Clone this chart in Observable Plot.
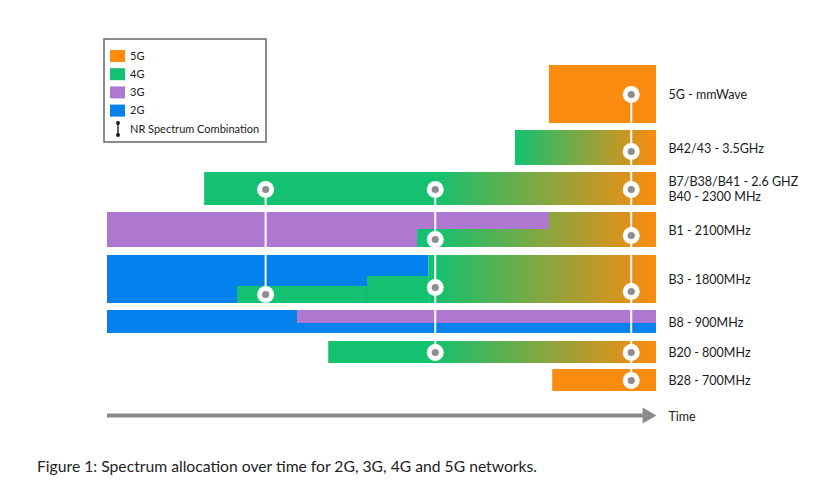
<!DOCTYPE html>
<html><head><meta charset="utf-8">
<script src="https://cdn.jsdelivr.net/npm/d3@7"></script>
<script src="https://cdn.jsdelivr.net/npm/@observablehq/plot@0.6"></script>
<style>
body{margin:0;background:#fff;font-family:Lato,"Noto Sans",sans-serif;}
#chart svg{display:block;}
.cap{padding:8px 0 0 37px;font-size:15.7px;line-height:20px;color:#222;font-family:Lato,"Noto Sans",sans-serif;}
</style>
</head><body>
<div id="chart"></div>
<div class="cap">Figure 1: Spectrum allocation over time for 2G, 3G, 4G and 5G networks.</div>
<script>
// ---- data ----
const bandLabels = ["5G - mmWave", "B42/43 - 3.5GHz", "B7/B38/B41 - 2.6 GHZ\nB40 - 2300 MHz", "B1 - 2100MHz", "B3 - 1800MHz", "B8 - 900MHz", "B20 - 800MHz", "B28 - 700MHz"];
const bandTop    = [0,   6.5, 10.7, 14.7, 19,   24.5, 27.6, 30.4];
const bandBottom = [5.8, 10,  14,   18.2, 23.8, 26.8, 29.8, 32.6];

const techs = ["5G", "4G", "3G", "2G"];
const techColors = ["#FB8B0E", "#13C170", "#AE78D1", "#0381ED"];

// spectrum segments (time 0..100)
const segBand   = [0,    1,    2,    3,    3,    3,    4,    4,    4,    4,    5,    5,    6,    7];
const segTech   = ["5G", "4G", "4G", "3G", "4G", "4G", "2G", "4G", "4G", "4G", "2G", "3G", "4G", "5G"];
const segStart  = [80.5, 74.3, 17.7, 0,    56.5, 80.5, 0,    58.5, 47.4, 23.7, 0,    34.6, 40.3, 81.1];
const segEnd    = [100,  100,  100,  80.5, 100,  100,  58.5, 100,  58.5, 47.4, 100,  100,  100,  100];
const segTop    = [0,    6.5,  10.7, 14.7, 16.4, 14.7, 19,   19,   21.1, 22.1, 24.5, 24.5, 27.6, 30.4];
const segBottom = [5.8,  10,   14,   18.2, 18.2, 16.4, 23.8, 23.8, 23.8, 23.8, 26.8, 25.8, 29.8, 32.6];
const segOwnGradient = [false, true, false, false, false, false, false, false, false, false, false, false, false, false];
const gradStart = 59.7; // 4G -> 5G refarming begins

// NR spectrum combinations
const nrTime = [28.8, 59.7, 95.4];
const dotCombo = [0, 0, 1, 1, 1, 1, 2, 2, 2, 2, 2, 2, 2];
const dotY     = [12.4, 22.9, 12.4, 17.4, 22.2, 28.7, 2.9, 8.6, 12.4, 17.0, 22.6, 28.7, 31.5];

const timeArrowY = 35;
const timeEnd = 100;

// ---- build tables ----
const colorOf = Object.fromEntries(techs.map((t, i) => [t, techColors[i]]));
const segs = segBand.map((b, i) => ({
  band: b, tech: segTech[i], x1: segStart[i], x2: segEnd[i], y1: segTop[i], y2: segBottom[i],
  fill: segTech[i] === "4G" ? (segOwnGradient[i] ? "url(#grad42)" : "url(#grad4g)") : colorOf[segTech[i]]
}));
const dots = dotCombo.map((c, i) => ({x: nrTime[c], y: dotY[i]}));
const lines = nrTime.map((t, c) => {
  const ys = dotY.filter((_, i) => dotCombo[i] === c);
  return {x: t, y1: d3.min(ys), y2: d3.max(ys)};
});
const labels = bandLabels.map((l, i) => ({text: l, y: (bandTop[i] + bandBottom[i]) / 2}));

const plot = Plot.plot({
  width: 830, height: 448,
  marginLeft: 107, marginRight: 174, marginTop: 65, marginBottom: 57,
  x: {domain: [0, 100], axis: null},
  y: {domain: [0, 32.6], reverse: true, axis: null},
  color: {type: "identity"},
  style: {fontFamily: "Lato, 'Noto Sans', sans-serif", background: "#fff"},
  marks: [
    Plot.rect(segs, {x1: "x1", x2: "x2", y1: "y1", y2: "y2", fill: "fill"}),
    Plot.ruleX(lines, {x: "x", y1: "y1", y2: "y2", stroke: "#fff", strokeWidth: 2}),
    Plot.dot(dots, {x: "x", y: "y", r: 8.5, fill: "#fff"}),
    Plot.dot(dots, {x: "x", y: "y", r: 3.6, fill: "#8E8E8E"}),
    Plot.text(labels, {x: timeEnd, y: "y", text: "text", textAnchor: "start", dx: 12, fontSize: 12.5, fill: "#1a1a1a", lineHeight: 1.2}),
    Plot.ruleY([timeArrowY], {x1: 0, x2: 97.6, stroke: "#8A8A8A", strokeWidth: 4}),
    Plot.dot([{x: timeEnd, y: timeArrowY}], {x: "x", y: "y", dx: -9.3, symbol: "triangle", rotate: 90, r: 6, fill: "#8A8A8A"}),
    Plot.text(["Time"], {x: timeEnd, y: timeArrowY, dx: 12, dy: 1.5, textAnchor: "start", fontSize: 12.5, fill: "#1a1a1a"})
  ]
});

// gradients in user space, positioned through the x scale
const xs = plot.scale("x");
const defs = d3.select(plot).insert("defs", ":first-child");
function grad(id, t0) {
  const g = defs.append("linearGradient").attr("id", id).attr("gradientUnits", "userSpaceOnUse")
    .attr("x1", xs.apply(t0)).attr("x2", xs.apply(100)).attr("y1", 0).attr("y2", 0);
  g.append("stop").attr("offset", 0).attr("stop-color", colorOf["4G"]);
  g.append("stop").attr("offset", 1).attr("stop-color", colorOf["5G"]);
}
grad("grad4g", gradStart);
grad("grad42", segStart[1]);

// legend
const lg = d3.select(plot).append("g").attr("font-family", "Lato, 'Noto Sans', sans-serif")
  .attr("font-size", 11).attr("fill", "#1a1a1a").attr("text-anchor", "start");
lg.append("rect").attr("x", 104).attr("y", 39).attr("width", 162).attr("height", 103)
  .attr("fill", "#fff").attr("stroke", "#666").attr("stroke-width", 1.5);
techs.forEach((t, i) => {
  const cy = 56 + i * 18.2;
  lg.append("rect").attr("x", 110).attr("y", cy - 6).attr("width", 15).attr("height", 12).attr("fill", techColors[i]);
  lg.append("text").attr("x", 130).attr("y", cy).attr("dy", "0.35em").text(t);
});
const ny = 129;
lg.append("line").attr("x1", 118).attr("x2", 118).attr("y1", ny - 6).attr("y2", ny + 6).attr("stroke", "#111").attr("stroke-width", 1.3);
lg.append("circle").attr("cx", 118).attr("cy", ny - 6).attr("r", 1.9).attr("fill", "#111");
lg.append("circle").attr("cx", 118).attr("cy", ny + 6).attr("r", 1.9).attr("fill", "#111");
lg.append("text").attr("x", 130).attr("y", ny).attr("dy", "0.35em").text("NR Spectrum Combination");

document.getElementById("chart").appendChild(plot);
</script>
</body></html>
